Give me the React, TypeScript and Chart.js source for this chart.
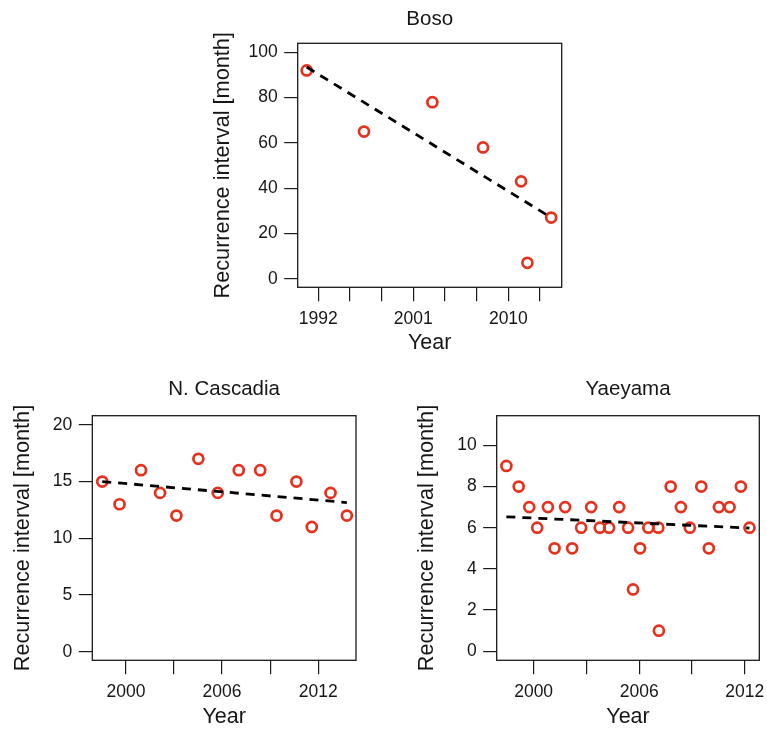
import React, { useEffect, useRef } from 'react';
import { Chart, registerables } from 'chart.js';

Chart.register(...registerables);

// ---------- Data ----------
const bosoYears = [1990.9, 1996.33, 2002.8, 2007.6, 2011.2, 2011.8, 2014.05];
const bosoValues = [92, 65, 78, 58, 43, 7, 27];
const bosoTrendYears = [1990.9, 2014.05];
const bosoTrendValues = [93.5, 27];
const bosoYTicks = [0, 20, 40, 60, 80, 100];
const bosoXTicks = [1992, 1995, 1998, 2001, 2004, 2007, 2010, 2013];
const bosoXLabels = [1992, 2001, 2010];

const cascadiaYears = [1998.52, 1999.6, 2000.94, 2002.13, 2003.15, 2004.52, 2005.73, 2007.04, 2008.38, 2009.4, 2010.64, 2011.6, 2012.77, 2013.79];
const cascadiaValues = [15, 13, 16, 14, 12, 17, 14, 16, 16, 12, 15, 11, 14, 12];
const cascadiaTrendYears = [1998.52, 2013.79];
const cascadiaTrendValues = [15.0, 13.15];
const cascadiaYTicks = [0, 5, 10, 15, 20];
const cascadiaXTicks = [2000, 2003, 2006, 2009, 2012];
const cascadiaXLabels = [2000, 2006, 2012];

const yaeyamaYears = [1998.45, 1999.15, 1999.75, 2000.2, 2000.81, 2001.19, 2001.79, 2002.19, 2002.7, 2003.27, 2003.76, 2004.29, 2004.86, 2005.37, 2005.65, 2006.05, 2006.52, 2007.09, 2007.12, 2007.79, 2008.37, 2008.88, 2009.53, 2009.96, 2010.53, 2011.14, 2011.78, 2012.27];
const yaeyamaValues = [9, 8, 7, 6, 7, 5, 7, 5, 6, 7, 6, 6, 7, 6, 3, 5, 6, 6, 1, 8, 7, 6, 8, 5, 7, 7, 8, 6];
const yaeyamaTrendYears = [1998.45, 2012.27];
const yaeyamaTrendValues = [6.53, 5.98];
const yaeyamaYTicks = [0, 2, 4, 6, 8, 10];
const yaeyamaXTicks = [2000, 2003, 2006, 2009, 2012];
const yaeyamaXLabels = [2000, 2006, 2012];

// ---------- Styles ----------
const FONT = "'Liberation Sans', Arial, Helvetica, sans-serif";
const RED = '#e5321f';
const TEXT = '#161616';

type Spec = {
  title: string;
  years: number[];
  values: number[];
  trendYears: number[];
  trendValues: number[];
  yTicks: number[];
  xTicks: number[];
  xLabels: number[];
  xMin: number; xMax: number; yMin: number; yMax: number;
  left: number; top: number; width: number; height: number;
  yAxisW: number; topH: number; xAxisH: number; padRight: number;
  yTitlePad: number; xTitlePad: number; titlePad: number;
};

const panels: Spec[] = [
  {
    title: 'Boso', years: bosoYears, values: bosoValues, trendYears: bosoTrendYears, trendValues: bosoTrendValues,
    yTicks: bosoYTicks, xTicks: bosoXTicks, xLabels: bosoXLabels,
    xMin: 1990.05, xMax: 2015.05, yMin: -3.8, yMax: 104,
    left: 200, top: 0, width: 380, height: 360,
    yAxisW: 97.7, topH: 43.3, xAxisH: 72.7, padRight: 18.3,
    yTitlePad: 10, xTitlePad: 4.4, titlePad: 7,
  },
  {
    title: 'N. Cascadia', years: cascadiaYears, values: cascadiaValues, trendYears: cascadiaTrendYears, trendValues: cascadiaTrendValues,
    yTicks: cascadiaYTicks, xTicks: cascadiaXTicks, xLabels: cascadiaXLabels,
    xMin: 1997.9, xMax: 2014.36, yMin: -0.75, yMax: 20.8,
    left: 0, top: 370, width: 380, height: 361,
    yAxisW: 92.3, topH: 45.7, xAxisH: 70.7, padRight: 24,
    yTitlePad: 10, xTitlePad: 1.4, titlePad: 7,
  },
  {
    title: 'Yaeyama', years: yaeyamaYears, values: yaeyamaValues, trendYears: yaeyamaTrendYears, trendValues: yaeyamaTrendValues,
    yTicks: yaeyamaYTicks, xTicks: yaeyamaXTicks, xLabels: yaeyamaXLabels,
    xMin: 1997.9, xMax: 2012.83, yMin: -0.44, yMax: 11.44,
    left: 390, top: 370, width: 377, height: 361,
    yAxisW: 106.7, topH: 45.7, xAxisH: 70.7, padRight: 7,
    yTitlePad: 24, xTitlePad: 1.4, titlePad: 7,
  },
];

const boxPlugin = {
  id: 'plotBox',
  afterDraw(chart: any) {
    const { ctx, chartArea: a } = chart;
    ctx.save();
    ctx.strokeStyle = '#1a1a1a';
    ctx.lineWidth = 1.3;
    ctx.strokeRect(a.left, a.top, a.right - a.left, a.bottom - a.top);
    ctx.restore();
  },
};

function zeroPad(s: any) {
  s.paddingLeft = 0; s.paddingRight = 0; s.paddingTop = 0; s.paddingBottom = 0;
}

function Panel({ spec }: { spec: Spec }) {
  const ref = useRef<HTMLCanvasElement>(null);
  useEffect(() => {
    const chart = new Chart(ref.current as HTMLCanvasElement, {
      type: 'scatter',
      data: {
        datasets: [
          {
            type: 'line',
            data: spec.trendYears.map((x, i) => ({ x, y: spec.trendValues[i] })),
            borderColor: '#000',
            borderWidth: 2.8,
            borderDash: [9, 7],
            pointRadius: 0,
            fill: false,
            tension: 0,
          } as any,
          {
            type: 'scatter',
            data: spec.years.map((x, i) => ({ x, y: spec.values[i] })),
            pointRadius: 5,
            pointHoverRadius: 5,
            pointBorderWidth: 2.7,
            borderColor: RED,
            backgroundColor: 'rgba(0,0,0,0)',
          } as any,
        ],
      },
      options: {
        responsive: false,
        maintainAspectRatio: false,
        animation: false,
        events: [],
        layout: { padding: { left: 0, top: 0, right: spec.padRight, bottom: 0 } },
        plugins: { legend: { display: false }, tooltip: { enabled: false }, title: { display: false } },
        scales: {
          x: {
            type: 'linear', position: 'bottom', min: spec.xMin, max: spec.xMax,
            afterBuildTicks: (s: any) => { s.ticks = spec.xTicks.map((v) => ({ value: v })); },
            afterFit: (s: any) => { s.height = spec.xAxisH; zeroPad(s); },
            ticks: {
              autoSkip: false, maxRotation: 0, minRotation: 0, padding: 7, color: TEXT,
              font: { family: FONT, size: 17.5 },
              callback: (v: any) => (spec.xLabels.includes(Number(v)) ? String(v) : ''),
            },
            grid: { drawOnChartArea: false, drawTicks: true, tickLength: 14, color: '#1a1a1a', lineWidth: 1.2 },
            border: { display: false },
            title: { display: true, text: 'Year', color: TEXT, font: { family: FONT, size: 21.5 }, padding: { top: 0, bottom: spec.xTitlePad } },
          },
          y: {
            type: 'linear', position: 'left', min: spec.yMin, max: spec.yMax,
            afterBuildTicks: (s: any) => { s.ticks = spec.yTicks.map((v) => ({ value: v })); },
            afterFit: (s: any) => { s.width = spec.yAxisW; zeroPad(s); },
            ticks: { padding: 6.5, color: TEXT, font: { family: FONT, size: 17.5 }, callback: (v: any) => String(v) },
            grid: { drawOnChartArea: false, drawTicks: true, tickLength: 13.5, color: '#1a1a1a', lineWidth: 1.2 },
            border: { display: false },
            title: { display: true, text: 'Recurrence interval [month]', color: TEXT, font: { family: FONT, size: 21.7 }, padding: { top: spec.yTitlePad, bottom: 0 } },
          },
          top: {
            type: 'linear', position: 'top', min: spec.xMin, max: spec.xMax,
            afterFit: (s: any) => { s.height = spec.topH; zeroPad(s); },
            ticks: { display: false },
            grid: { display: false },
            border: { display: false },
            title: { display: true, text: spec.title, color: TEXT, font: { family: FONT, size: 20.5 }, padding: { top: spec.titlePad, bottom: 0 } },
          },
        },
      } as any,
      plugins: [boxPlugin],
    });
    return () => chart.destroy();
  }, [spec]);
  return (
    <canvas
      ref={ref}
      width={spec.width}
      height={spec.height}
      style={{ position: 'absolute', left: spec.left, top: spec.top, width: spec.width, height: spec.height }}
    />
  );
}

export default function App() {
  return (
    <div style={{ position: 'fixed', left: 0, top: 0, width: 767, height: 731, background: '#fff', overflow: 'hidden' }}>
      {panels.map((p) => (
        <Panel key={p.title} spec={p} />
      ))}
    </div>
  );
}
